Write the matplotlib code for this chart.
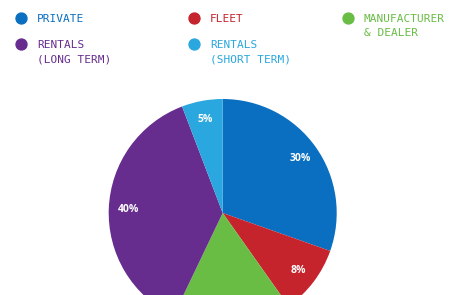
import matplotlib
matplotlib.use("Agg")
import matplotlib.pyplot as plt

# slice shares as drawn (clockwise from the top)
categories = ["Private", "Fleet", "Manufacturer & Dealer", "Rentals (Long Term)", "Rentals (Short Term)"]
shares = [30.4, 9.8, 16.9, 37.1, 5.8]
pct_labels = ["30%", "8%", "17%", "40%", "5%"]
legend_text = ["PRIVATE", "FLEET", "MANUFACTURER\n& DEALER", "RENTALS\n(LONG TERM)", "RENTALS\n(SHORT TERM)"]
colors = ["#0a6fc1", "#c6242d", "#69bd45", "#662d8f", "#2aa7df"]

W, H = 460, 295
fig = plt.figure(figsize=(W / 100, H / 100), dpi=100)
ax = fig.add_axes([0, 0, 1, 1])

wedges, texts = ax.pie(
    shares,
    colors=colors,
    startangle=90,
    counterclock=False,
    center=(222.7, H - 213),
    radius=114,
    labels=pct_labels,
    labeldistance=0.83,
    textprops=dict(color="white", fontsize=7.5, fontweight="bold",
                   family="Open Sans", ha="center", va="center"),
    wedgeprops=dict(linewidth=0),
)
# the bottom slice's label falls below the visible area in the original
for t in texts:
    if t.get_position()[1] < 8:
        t.set_visible(False)

ax.set_xlim(0, W)
ax.set_ylim(0, H)
ax.set_aspect("equal")
ax.axis("off")

# legend: dot + label, laid out in a 3-column grid
legend_pos = [(21, 18), (194, 18), (348, 18), (21, 44), (194, 44)]
for (x, y), txt, c in zip(legend_pos, legend_text, colors):
    ax.scatter([x], [H - y], s=62, color=c, clip_on=False, zorder=5)
    ax.text(x + 16, H - y + 4.5, txt, color=c, fontsize=8, family="DejaVu Sans Mono",
            ha="left", va="top", linespacing=1.6)

fig.savefig("out.png", dpi=100)
